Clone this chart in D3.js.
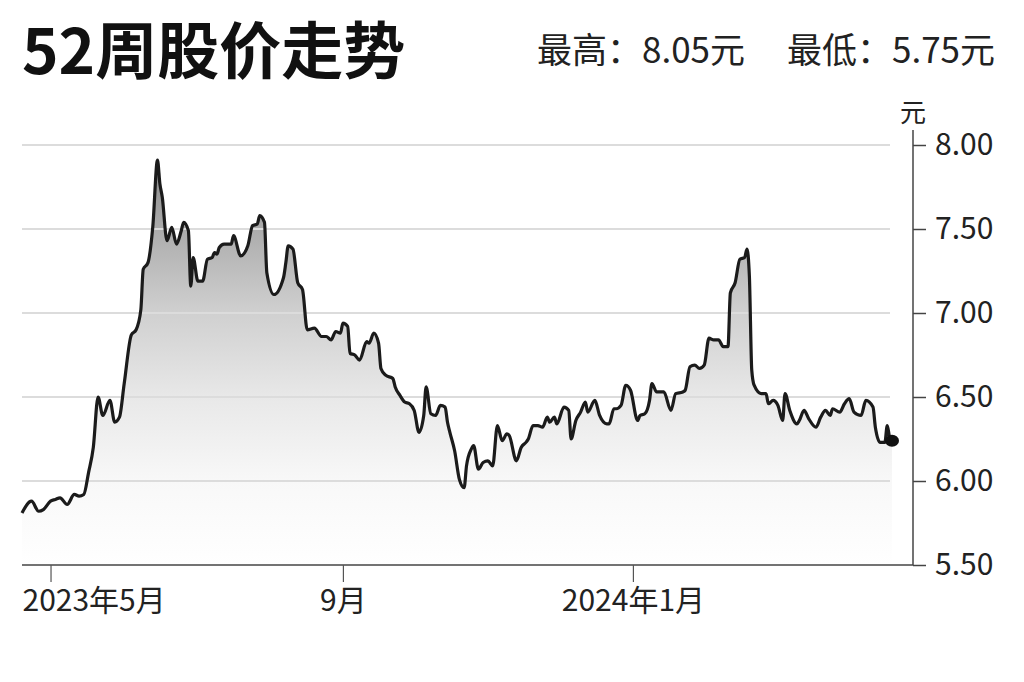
<!DOCTYPE html>
<html>
<head>
<meta charset="utf-8">
<script src="https://cdn.jsdelivr.net/npm/d3@7"></script>
<style>
  body { margin: 0; background: #fff; }
  svg { display: block; font-family: "Noto Sans CJK SC", "Noto Sans", sans-serif; }
</style>
</head>
<body>
<svg width="1024" height="682"></svg>
<script>
// 52-week price
var dates = [
  "2023-04-19","2023-04-23","2023-04-26","2023-04-28","2023-05-01","2023-05-03","2023-05-05","2023-05-08",
  "2023-05-11","2023-05-13","2023-05-15","2023-05-17","2023-05-19","2023-05-21","2023-05-23","2023-05-26",
  "2023-05-28","2023-05-30","2023-06-01","2023-06-04","2023-06-06","2023-06-08","2023-06-09","2023-06-11",
  "2023-06-13","2023-06-15","2023-06-16","2023-06-17","2023-06-19","2023-06-21","2023-06-23","2023-06-25",
  "2023-06-26","2023-06-28","2023-06-29","2023-06-30","2023-07-02","2023-07-04","2023-07-06","2023-07-08",
  "2023-07-09","2023-07-10","2023-07-11","2023-07-13","2023-07-16","2023-07-17","2023-07-20","2023-07-23",
  "2023-07-25","2023-07-27","2023-07-28","2023-07-30","2023-07-31","2023-08-03","2023-08-07","2023-08-08",
  "2023-08-09","2023-08-11","2023-08-13","2023-08-15","2023-08-17","2023-08-20","2023-08-23","2023-08-25",
  "2023-08-27","2023-08-29","2023-08-31","2023-09-01","2023-09-03","2023-09-04","2023-09-06","2023-09-08",
  "2023-09-11","2023-09-12","2023-09-14","2023-09-16","2023-09-17","2023-09-19","2023-09-22","2023-09-23",
  "2023-09-25","2023-09-27","2023-09-29","2023-10-01","2023-10-03","2023-10-05","2023-10-06","2023-10-08",
  "2023-10-10","2023-10-12","2023-10-14","2023-10-15","2023-10-16","2023-10-18","2023-10-20","2023-10-22",
  "2023-10-23","2023-10-25","2023-10-26","2023-10-28","2023-10-30","2023-11-01","2023-11-03","2023-11-05",
  "2023-11-07","2023-11-09","2023-11-10","2023-11-13","2023-11-15","2023-11-17","2023-11-18","2023-11-20",
  "2023-11-22","2023-11-24","2023-11-26","2023-11-27","2023-11-29","2023-11-30","2023-12-03","2023-12-05",
  "2023-12-06","2023-12-08","2023-12-10","2023-12-12","2023-12-13","2023-12-16","2023-12-18","2023-12-21",
  "2023-12-22","2023-12-24","2023-12-25","2023-12-27","2023-12-29","2023-12-31","2024-01-03","2024-01-04",
  "2024-01-06","2024-01-08","2024-01-09","2024-01-11","2024-01-14","2024-01-17","2024-01-19","2024-01-22",
  "2024-01-23","2024-01-25","2024-01-27","2024-01-29","2024-01-31","2024-02-02","2024-02-04","2024-02-06",
  "2024-02-08","2024-02-10","2024-02-11","2024-02-13","2024-02-15","2024-02-17","2024-02-18","2024-02-19",
  "2024-02-20","2024-02-21","2024-02-24","2024-02-26","2024-02-27","2024-02-29","2024-03-02","2024-03-04",
  "2024-03-05","2024-03-07","2024-03-10","2024-03-11","2024-03-13","2024-03-15","2024-03-18","2024-03-20",
  "2024-03-22","2024-03-24","2024-03-25","2024-03-28","2024-03-30","2024-04-01","2024-04-03","2024-04-06",
  "2024-04-08","2024-04-11","2024-04-12","2024-04-14","2024-04-16","2024-04-17","2024-04-18","2024-04-19"
];
var prices = [
  5.81,5.88,5.82,5.83,5.88,5.89,5.90,5.86,
  5.92,5.91,5.92,6.05,6.20,6.50,6.39,6.48,
  6.35,6.38,6.58,6.87,6.90,7.02,7.26,7.30,
  7.51,7.91,7.77,7.69,7.43,7.51,7.41,7.49,
  7.54,7.49,7.16,7.33,7.19,7.19,7.32,7.33,
  7.36,7.35,7.39,7.41,7.41,7.46,7.34,7.40,
  7.52,7.53,7.58,7.54,7.24,7.11,7.21,7.30,
  7.40,7.38,7.18,7.14,6.90,6.91,6.86,6.86,
  6.84,6.89,6.88,6.94,6.92,6.76,6.75,6.72,
  6.83,6.82,6.88,6.82,6.67,6.63,6.61,6.56,
  6.51,6.47,6.46,6.42,6.29,6.39,6.56,6.40,
  6.39,6.45,6.44,6.35,6.29,6.18,6.01,5.96,
  6.09,6.19,6.21,6.07,6.11,6.12,6.09,6.33,
  6.24,6.28,6.27,6.12,6.20,6.23,6.25,6.33,
  6.33,6.32,6.38,6.35,6.38,6.34,6.44,6.42,
  6.25,6.36,6.41,6.47,6.41,6.48,6.39,6.34,
  6.34,6.43,6.43,6.45,6.57,6.54,6.36,6.39,
  6.40,6.48,6.58,6.53,6.53,6.42,6.52,6.53,
  6.54,6.68,6.69,6.67,6.69,6.85,6.84,6.84,
  6.80,6.80,7.12,7.18,7.32,7.33,7.38,7.22,
  6.66,6.57,6.52,6.52,6.46,6.48,6.45,6.36,
  6.52,6.42,6.34,6.36,6.42,6.37,6.32,6.38,
  6.42,6.39,6.43,6.41,6.46,6.49,6.41,6.39,
  6.48,6.44,6.32,6.23,6.23,6.33,6.26,6.24
];
var yTicks = [5.5, 6.0, 6.5, 7.0, 7.5, 8.0];
var xTickDates = ["2023-05-01", "2023-09-01", "2024-01-01"];
var xTickLabels = ["2023年5月", "9月", "2024年1月"];
var TITLE = "52周股价走势";
var HIGH_TEXT = "最高：8.05元";
var LOW_TEXT = "最低：5.75元";

var parse = d3.timeParse("%Y-%m-%d");
var series = dates.map((d, i) => ({date: parse(d), price: prices[i]}));

var svg = d3.select("svg");

var x = d3.scaleTime()
    .domain([parse("2023-04-19"), parse("2024-04-19")])
    .range([22, 892]);
var y = d3.scaleLinear().domain([5.5, 8]).range([565, 145]);

var AXIS_X = 913;

// gradient fill under the line
var grad = svg.append("defs").append("linearGradient")
    .attr("id", "fade")
    .attr("gradientUnits", "userSpaceOnUse")
    .attr("x1", 0).attr("x2", 0)
    .attr("y1", y(8)).attr("y2", y(5.5));
[[0, "#808080"], [0.2, "#acacac"], [0.4, "#d0d0d0"], [0.6, "#e8e8e8"], [0.8, "#f8f8f8"], [1, "#ffffff"]]
  .forEach(s => grad.append("stop").attr("offset", s[0]).attr("stop-color", s[1]));

var area = d3.area()
    .curve(d3.curveMonotoneX)
    .x(d => x(d.date))
    .y0(y(5.5))
    .y1(d => y(d.price));

var line = d3.line()
    .curve(d3.curveMonotoneX)
    .x(d => x(d.date))
    .y(d => y(d.price));

svg.append("path")
    .datum(series)
    .attr("fill", "url(#fade)")
    .attr("d", area);

// grid
svg.append("g")
  .selectAll("line")
  .data(yTicks.filter(t => t > 5.5))
  .join("line")
    .attr("x1", 22).attr("x2", 890)
    .attr("y1", d => y(d)).attr("y2", d => y(d))
    .attr("stroke", "#dcdcdc")
    .attr("stroke-width", 2);

svg.append("path")
    .datum(series)
    .attr("fill", "none")
    .attr("stroke", "#1b1b1b")
    .attr("stroke-width", 3.2)
    .attr("stroke-linejoin", "round")
    .attr("d", line);

var last = series[series.length - 1];
svg.append("ellipse")
    .attr("cx", x(last.date))
    .attr("cy", y(last.price))
    .attr("rx", 7)
    .attr("ry", 6)
    .attr("fill", "#111");

// x axis
var gx = svg.append("g")
    .attr("transform", "translate(0,565)")
    .call(d3.axisBottom(x)
        .tickValues(xTickDates.map(parse))
        .tickFormat((d, i) => xTickLabels[i])
        .tickSize(17)
        .tickPadding(8)
        .tickSizeOuter(0));
gx.select(".domain").attr("d", "M22,0H" + AXIS_X).attr("stroke", "#444").attr("stroke-width", 1.5);
gx.selectAll(".tick line").attr("stroke", "#555").attr("stroke-width", 1.2);
gx.selectAll(".tick text")
    .attr("font-size", 30)
    .attr("fill", "#222")
    .attr("font-family", "Noto Sans CJK SC");
gx.select(".tick text")
    .attr("text-anchor", "start")
    .attr("x", 22 - x(parse(xTickDates[0])));

// y axis on the right
var gy = svg.append("g")
    .attr("transform", "translate(" + AXIS_X + ",0)")
    .call(d3.axisRight(y)
        .tickValues(yTicks)
        .tickFormat(d3.format(".2f"))
        .tickSize(13)
        .tickPadding(9)
        .tickSizeOuter(0));
gy.select(".domain").attr("d", "M0,130V565").attr("stroke", "#444").attr("stroke-width", 1.5);
gy.selectAll(".tick line").attr("stroke", "#444").attr("stroke-width", 1.5);
gy.selectAll(".tick text")
    .attr("font-size", 30)
    .attr("fill", "#222")
    .attr("font-family", "Noto Sans CJK SC");

svg.append("text")
    .attr("x", AXIS_X)
    .attr("y", 122)
    .attr("text-anchor", "middle")
    .attr("font-size", 26)
    .attr("fill", "#222")
    .text("元");

// header
svg.append("text")
    .attr("x", 22)
    .attr("y", 74)
    .attr("font-size", 62)
    .attr("font-weight", 700)
    .attr("fill", "#111")
    .text(TITLE);

svg.append("text")
    .attr("x", 537)
    .attr("y", 63)
    .attr("font-size", 35)
    .attr("fill", "#222")
    .text(HIGH_TEXT);

svg.append("text")
    .attr("x", 787)
    .attr("y", 63)
    .attr("font-size", 35)
    .attr("fill", "#222")
    .text(LOW_TEXT);
</script>
</body>
</html>
